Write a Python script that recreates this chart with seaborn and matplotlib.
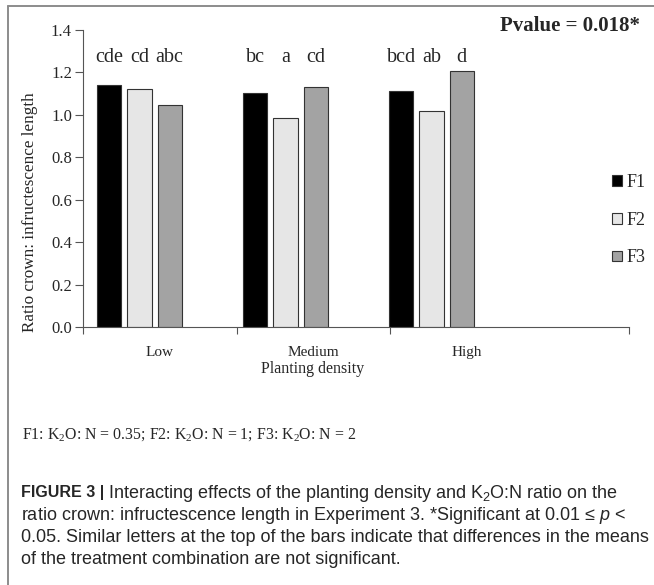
import numpy as np
import pandas as pd
import matplotlib
matplotlib.use("Agg")
import matplotlib.pyplot as plt
import seaborn as sns
from matplotlib.lines import Line2D

# data
densities = ["Low", "Medium", "High"]
ratios = ["F1", "F2", "F3"]
values = {
    "F1": [1.143, 1.105, 1.114],
    "F2": [1.120, 0.987, 1.018],
    "F3": [1.047, 1.130, 1.206],
}
letters = {
    "F1": ["cde", "bc", "bcd"],
    "F2": ["cd", "a", "ab"],
    "F3": ["abc", "cd", "d"],
}
yticks = [0.0, 0.2, 0.4, 0.6, 0.8, 1.0, 1.2, 1.4]
bar_colors = ["#000000", "#e6e6e6", "#a3a3a3"]

rows = []
for r in ratios:
    for d, v in zip(densities, values[r]):
        rows.append({"density": d, "ratio": r, "value": v})
df = pd.DataFrame(rows)

sns.set_style("ticks")
plt.rcParams["font.family"] = ["Liberation Serif", "DejaVu Serif"]
plt.rcParams["mathtext.fontset"] = "custom"
plt.rcParams["mathtext.rm"] = "Liberation Sans"
plt.rcParams["mathtext.it"] = "Liberation Sans:italic"

fig = plt.figure(figsize=(6.54, 5.85), dpi=100)
ax = fig.add_axes([83 / 654, 1 - 327 / 585, (629 - 83) / 654, (327 - 30) / 585])

sns.barplot(data=df, x="density", y="value", hue="ratio", order=densities,
            hue_order=ratios, palette=bar_colors, width=0.62, gap=0.2,
            edgecolor="#333333", linewidth=0.8, ax=ax, legend=False)

ax.set_ylim(0, 1.4)
ax.set_xlim(-0.387, 3.353)
ax.set_yticks(yticks)
ax.set_yticklabels([f"{t:.1f}" for t in yticks], fontsize=12)
ax.set_xticks([0.14, 1.188, 2.243])
ax.set_xticklabels(densities, fontsize=11)
ax.tick_params(axis="x", which="major", length=0, pad=14)
ax.set_xticks([-0.387, 0.668, 1.716, 3.353], minor=True)
ax.tick_params(axis="x", which="minor", length=5, width=0.8, color="#555555")
ax.tick_params(axis="y", length=6, width=0.8, color="#555555", pad=2)
for s in ["left", "bottom"]:
    ax.spines[s].set_color("#555555")
    ax.spines[s].set_linewidth(0.8)
sns.despine(ax=ax)
ax.set_xlabel("Planting density", fontsize=11.5)
ax.xaxis.set_label_coords((313 - 83) / 546, -(369 - 327) / 297)
ax.xaxis.label.set_va("center")
ax.set_ylabel("Ratio crown: infructescence length", fontsize=12.3)
ax.yaxis.set_label_coords(-(83 - 38) / 546, (327 - 212) / 297)

# significance letters above each bar
for container, r in zip(ax.containers, ratios):
    for patch, lab in zip(container, letters[r]):
        ax.text(patch.get_x() + patch.get_width() / 2, 1.27, lab,
                ha="center", va="center", fontsize=14.5)

ax.text(3.43, 1.42, "Pvalue = 0.018*", ha="right", va="center",
        fontsize=15, fontweight="bold", clip_on=False)

handles = [plt.Rectangle((0, 0), 1, 1, facecolor=c, edgecolor="#333333", linewidth=0.8)
           for c in bar_colors]
ax.legend(handles, ratios, loc="center left", bbox_to_anchor=(0.952, 0.36),
          frameon=False, fontsize=13, handlelength=0.55, handleheight=0.55,
          handletextpad=0.25, labelspacing=1.15, borderpad=0)

# footnote and caption
fig.text(22 / 654, 1 - 435 / 585,
         r"F1: K$\mathregular{_2}$O: N = 0.35; F2: K$\mathregular{_2}$O: N = 1; F3: K$\mathregular{_2}$O: N = 2",
         ha="left", va="center", fontsize=11.4)

caption = [
    r"Interacting effects of the planting density and K$\mathregular{_2}$O:N ratio on the",
    r"ratio crown: infructescence length in Experiment 3. *Significant at 0.01 ≤ $\mathit{p}$ <",
    "0.05. Similar letters at the top of the bars indicate that differences in the means",
    "of the treatment combination are not significant.",
]
cap_y = [493, 515, 537, 559]
sans = ["Liberation Sans", "DejaVu Sans"]
t = fig.text(21 / 654, 1 - cap_y[0] / 585, "FIGURE 3 |", ha="left", va="center",
             fontsize=11.5, fontweight="bold", family=sans)
fig.canvas.draw()
bb = t.get_window_extent()
fig.text(bb.x1 / 654 + 0.006, 1 - cap_y[0] / 585, caption[0], ha="left", va="center",
         fontsize=13, family=sans)
for line, y in zip(caption[1:], cap_y[1:]):
    fig.text(21 / 654, 1 - y / 585, line, ha="left", va="center", fontsize=13, family=sans)

# thin frame on the left and top
fig.add_artist(Line2D([8 / 654, 8 / 654], [0, 1 - 6 / 585], color="#8c8c8c", linewidth=1.4))
fig.add_artist(Line2D([8 / 654, 1], [1 - 6 / 585, 1 - 6 / 585], color="#8c8c8c", linewidth=1.4))

fig.savefig("out.png", dpi=100)
